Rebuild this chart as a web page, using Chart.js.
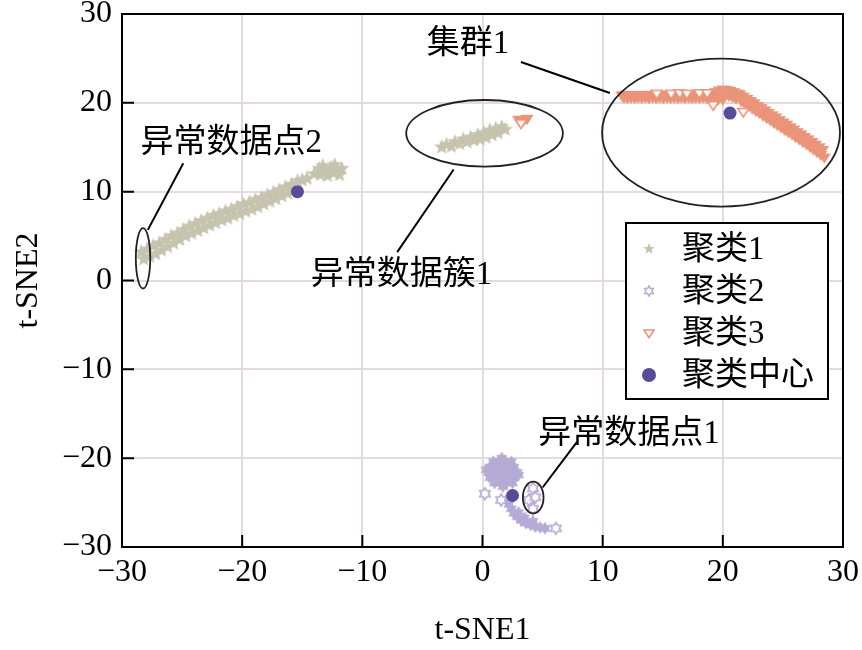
<!DOCTYPE html>
<html>
<head>
<meta charset="utf-8">
<script src="https://cdn.jsdelivr.net/npm/chart.js@4.4.0/dist/chart.umd.min.js"></script>
<style>
    html, body { margin: 0; padding: 0; background: #fff; }
</style>
</head>
<body>
<canvas id="tsne-chart" width="862" height="650"></canvas>
<script>

// ---- data (t-SNE1, t-SNE2) ----
var tickValues = [-30, -20, -10, 0, 10, 20, 30];

// cluster 1: long band on the left plus the small band at the right end
var clusterOne = [
    [-28.4,3.2],[-28.2,2.4],[-27.9,3.5],[-27.7,2.7],[-27.4,3.9],[-27.2,3.0],[-26.9,4.2],[-26.7,3.4],
    [-26.4,4.6],[-26.2,3.8],[-25.9,5.0],[-25.7,4.2],[-25.4,5.3],[-25.2,4.6],[-24.9,5.7],[-24.7,5.0],
    [-24.4,6.1],[-24.2,5.3],[-23.9,6.4],[-23.7,5.6],[-23.4,6.7],[-23.2,5.9],[-22.9,7.0],[-22.7,6.2],
    [-22.4,7.3],[-22.2,6.5],[-21.9,7.5],[-21.7,6.8],[-21.4,7.8],[-21.2,7.0],[-20.9,8.0],[-20.7,7.3],
    [-20.4,8.3],[-20.2,7.5],[-19.9,8.6],[-19.7,7.8],[-19.4,8.8],[-19.2,8.0],[-18.9,9.1],[-18.7,8.3],
    [-18.4,9.3],[-18.2,8.6],[-17.9,9.6],[-17.7,8.9],[-17.4,9.9],[-17.2,9.2],[-16.9,10.2],[-16.7,9.5],
    [-16.4,10.5],[-16.2,9.8],[-15.9,10.8],[-15.7,10.2],[-15.4,11.2],[-15.0,11.3],[-14.6,11.5],
    [-14.0,12.0],[-13.6,12.6],[-13.5,11.9],[-13.1,12.4],[-12.9,11.8],[-12.6,12.7],[-12.4,12.1],
    [-12.1,12.5],[-11.9,11.9],[-11.7,12.6],[-13.3,12.9],[-12.3,13.0]
];
// cluster 1 points inside "异常数据簇1"
var clusterOneOdd = [
    [-3.4,15.0],[-3.0,15.3],[-2.6,15.1],[-2.3,15.6],[-1.9,15.4],[-1.6,15.9],[-1.3,15.6],[-1.0,16.1],
    [-0.7,15.8],[-0.4,16.4],[-0.2,15.9],[0.1,16.6],[0.3,16.1],[0.6,16.9],[0.8,16.4],[1.1,17.1],
    [1.3,16.6],[1.6,17.3],[1.9,17.0]
];

// cluster 2: dense blob and tail at the bottom
var clusterTwo = [
    [0.9,-20.4],[1.4,-20.4],[1.9,-20.4],[2.4,-20.4],
    [0.6,-21.0],[1.1,-21.0],[1.6,-21.0],[2.1,-21.0],[2.6,-21.0],
    [0.5,-21.6],[1.0,-21.6],[1.5,-21.6],[2.0,-21.6],[2.5,-21.6],[2.9,-21.6],
    [0.6,-22.2],[1.1,-22.2],[1.6,-22.2],[2.1,-22.2],[2.6,-22.2],
    [1.0,-22.8],[1.5,-22.8],[2.0,-22.8],[2.5,-22.8],
    [0.3,-21.3],[1.6,-20.0],[3.0,-21.9],[1.7,-23.2],
    [2.0,-24.7],[2.2,-25.2],[2.4,-25.7],[2.6,-26.2],[2.9,-26.6],[3.2,-27.0],[3.6,-27.3],
    [4.0,-27.5],[4.4,-27.7],[4.8,-27.8],[5.2,-27.9],[3.0,-26.1],[3.5,-26.7],[4.2,-27.1]
];
var clusterTwoLoose = [
    [0.2,-24.0],[1.55,-24.7],[4.2,-23.4],[3.85,-24.7],[4.2,-25.7],[4.4,-24.4],[6.1,-27.9]
];

// cluster 3: flat band, bump and descending band on the right, plus a few in the odd cluster
var clusterThree = [
    // flat part, upper row
    [11.6,20.85],[11.9,20.9],[12.2,20.85],[12.5,20.9],[12.8,20.85],[13.1,20.9],[13.4,20.85],[13.7,20.9],
    [14.0,20.85],[14.3,20.9],[14.6,20.85],[14.9,20.9],[15.2,20.85],[15.5,20.9],[15.8,20.85],[16.1,20.9],
    [16.4,20.85],[16.7,20.9],[17.0,20.85],[17.3,20.9],[17.6,20.85],[17.9,20.9],[18.2,20.85],[18.5,20.9],
    [18.8,20.9],[19.1,20.95],
    // flat part, lower row
    [11.75,20.6],[12.05,20.55],[12.35,20.6],[12.65,20.55],[12.95,20.6],[13.25,20.55],[13.55,20.6],
    [13.85,20.55],[14.15,20.6],[14.45,20.55],[14.75,20.6],[15.05,20.55],[15.35,20.6],[15.65,20.55],
    [15.95,20.6],[16.25,20.55],[16.55,20.6],[16.85,20.55],[17.15,20.6],[17.45,20.55],[17.75,20.6],
    [18.05,20.55],[18.35,20.6],[18.65,20.55],[18.95,20.5],[19.25,20.45],
    // bump
    [19.4,21.2],[19.7,21.4],[20.0,21.5],[20.3,21.45],[20.6,21.35],[20.9,21.2],[21.2,21.05],
    [19.6,20.8],[19.9,20.9],[20.2,20.9],[20.5,20.8],[20.8,20.65],[21.1,20.5],[19.6,20.35],[20.0,20.4],
    // descending part, upper row
    [21.4,20.95],[21.7,20.7],[22.0,20.45],[22.3,20.2],[22.6,19.95],[22.9,19.65],[23.2,19.4],[23.5,19.15],
    [23.8,18.85],[24.1,18.6],[24.4,18.35],[24.7,18.05],[25.0,17.8],[25.3,17.55],[25.6,17.25],[25.9,17.0],
    [26.2,16.7],[26.5,16.45],[26.8,16.15],[27.1,15.9],[27.4,15.6],[27.7,15.3],[28.0,15.0],[28.3,14.7],
    // descending part, lower row
    [21.55,20.15],[21.85,19.9],[22.15,19.65],[22.45,19.35],[22.75,19.1],[23.05,18.85],[23.35,18.55],
    [23.65,18.3],[23.95,18.05],[24.25,17.75],[24.55,17.5],[24.85,17.25],[25.15,16.95],[25.45,16.7],
    [25.75,16.45],[26.05,16.15],[26.35,15.9],[26.65,15.6],[26.95,15.35],[27.25,15.05],[27.55,14.75],
    [27.85,14.45],[28.15,14.15],[28.45,13.85],
    // inside "异常数据簇1"
    [3.0,18.1],[3.4,18.0],[3.7,18.2]
];
var clusterThreeLoose = [
    [14.5,21.05],[15.7,21.05],[16.4,21.1],[17.0,21.05],[18.05,21.1],[18.7,21.1],
    [19.2,19.75],[21.7,19.0],[3.2,17.7]
];

var centers = [[-15.4, 10.0], [2.5, -24.2], [20.6, 18.85]];

// annotations: [cx, cy, rx, ry] in data units
var rings = [
    [-28.25, 2.5, 0.6, 3.4],
    [0.17, 16.57, 6.52, 3.75],
    [19.85, 16.64, 9.9, 8.33],
    [4.22, -24.43, 0.86, 1.78]
];
var callouts = [
    { text: '集群1',       at: [-1.2, 26.6],  from: [3.2, 24.6],   to: [10.6, 21.1] },
    { text: '异常数据点2', at: [-20.9, 15.45], from: [-24.9, 13.2], to: [-27.85, 5.7] },
    { text: '异常数据簇1', at: [-6.75, 0.6],   from: [-7.1, 3.2],   to: [-2.4, 12.5] },
    { text: '异常数据点1', at: [12.2, -17.3],  from: [7.85, -18.2], to: [5.0, -23.3] }
];
var legendNames = ['聚类1', '聚类2', '聚类3', '聚类中心'];

// ---- styles ----
var TEXT_FONT = '"Liberation Serif", "Noto Sans CJK SC", serif';
var colorOne = '#c6c3ae';
var colorTwo = '#b5abd5';
var colorThree = '#ea9479';
var colorCenter = '#574c98';
var gridColor = 'rgba(226, 214, 219, 0.9)';

function marker(size, draw) {
    var c = document.createElement('canvas');
    c.width = size;
    c.height = size;
    var g = c.getContext('2d');
    g.translate(size / 2, size / 2);
    draw(g);
    return c;
}

function starPath(g, n, ro, ri) {
    g.beginPath();
    for (var i = 0; i < n * 2; i++) {
        var r = i % 2 ? ri : ro;
        var a = -Math.PI / 2 + i * Math.PI / n;
        g.lineTo(r * Math.cos(a), r * Math.sin(a));
    }
    g.closePath();
}

function triPath(g, r) {
    g.beginPath();
    g.moveTo(-r, -r * 0.6);
    g.lineTo(r, -r * 0.6);
    g.lineTo(0, r * 0.95);
    g.closePath();
}

var starFill = marker(18, function (g) { starPath(g, 5, 8, 3.4); g.fillStyle = colorOne; g.fill(); });
var hexFill = marker(16, function (g) { starPath(g, 6, 6.5, 3.8); g.fillStyle = colorTwo; g.fill(); });
var hexHollow = marker(16, function (g) {
    starPath(g, 6, 6, 3.5); g.fillStyle = '#fff'; g.fill();
    g.strokeStyle = colorTwo; g.lineWidth = 1.6; g.stroke();
});
var triFill = marker(16, function (g) { triPath(g, 6.5); g.fillStyle = colorThree; g.fill(); });
var triHollow = marker(16, function (g) {
    triPath(g, 5.5); g.fillStyle = '#fff'; g.fill();
    g.strokeStyle = colorThree; g.lineWidth = 1.6; g.stroke();
});

// legend glyphs (smaller)
var legendStar = marker(16, function (g) { starPath(g, 5, 6, 2.6); g.fillStyle = colorOne; g.fill(); });
var legendHex = marker(16, function (g) {
    starPath(g, 6, 5, 2.9); g.strokeStyle = colorTwo; g.lineWidth = 1.5; g.stroke();
});
var legendTri = marker(16, function (g) {
    triPath(g, 5); g.strokeStyle = colorThree; g.lineWidth = 1.6; g.stroke();
});
var legendDot = marker(18, function (g) {
    g.beginPath(); g.arc(0, 0, 7, 0, Math.PI * 2); g.fillStyle = colorCenter; g.fill();
});

function pts(list) {
    return list.map(function (p) { return { x: p[0], y: p[1] }; });
}

function fmtTick(v) {
    return String(v).replace('-', '\u2212');
}

// inward ticks and the full frame
var framePlugin = {
    id: 'frame',
    afterDatasetsDraw: function (chart) {
        var a = chart.chartArea, g = chart.ctx;
        var xs = chart.scales.x, ys = chart.scales.y;
        g.save();
        g.strokeStyle = '#000';
        g.lineWidth = 2;
        g.beginPath();
        xs.ticks.forEach(function (t) {
            var px = xs.getPixelForValue(t.value);
            g.moveTo(px, a.bottom);
            g.lineTo(px, a.bottom - 12);
        });
        ys.ticks.forEach(function (t) {
            var py = ys.getPixelForValue(t.value);
            g.moveTo(a.left, py);
            g.lineTo(a.left + 12, py);
        });
        g.stroke();
        g.strokeRect(a.left, a.top, a.right - a.left, a.bottom - a.top);
        g.restore();
    }
};

// ellipses, leader lines and their labels
var notesPlugin = {
    id: 'notes',
    afterDraw: function (chart) {
        var g = chart.ctx, xs = chart.scales.x, ys = chart.scales.y;
        g.save();
        g.strokeStyle = '#222';
        g.lineWidth = 1.8;
        rings.forEach(function (r) {
            var cx = xs.getPixelForValue(r[0]), cy = ys.getPixelForValue(r[1]);
            var rx = Math.abs(xs.getPixelForValue(r[0] + r[2]) - cx);
            var ry = Math.abs(ys.getPixelForValue(r[1] + r[3]) - cy);
            g.beginPath();
            g.ellipse(cx, cy, rx, ry, 0, 0, Math.PI * 2);
            g.stroke();
        });
        g.strokeStyle = '#000';
        g.lineWidth = 2;
        g.fillStyle = '#000';
        g.font = '33px ' + TEXT_FONT;
        g.textAlign = 'center';
        g.textBaseline = 'middle';
        callouts.forEach(function (c) {
            g.beginPath();
            g.moveTo(xs.getPixelForValue(c.from[0]), ys.getPixelForValue(c.from[1]));
            g.lineTo(xs.getPixelForValue(c.to[0]), ys.getPixelForValue(c.to[1]));
            g.stroke();
            g.fillText(c.text, xs.getPixelForValue(c.at[0]), ys.getPixelForValue(c.at[1]));
        });
        g.restore();
    }
};

var legendPlugin = {
    id: 'boxLegend',
    afterDraw: function (chart) {
        var a = chart.chartArea, g = chart.ctx;
        var glyphs = [legendStar, legendHex, legendTri, legendDot];
        var right = a.right - 15, top = a.top + 209;
        var w = 202, h = 176;
        g.save();
        g.fillStyle = '#fff';
        g.fillRect(right - w, top, w, h);
        g.strokeStyle = '#000';
        g.lineWidth = 2;
        g.strokeRect(right - w, top, w, h);
        g.font = '33px ' + TEXT_FONT;
        g.fillStyle = '#000';
        g.textBaseline = 'middle';
        g.textAlign = 'left';
        legendNames.forEach(function (name, i) {
            var y = top + 26 + i * 42;
            var img = glyphs[i];
            g.drawImage(img, right - w + 23 - img.width / 2, y - img.height / 2);
            g.fillText(name, right - w + 56, y + 1);
        });
        g.restore();
    }
};

var ctx = document.getElementById('tsne-chart').getContext('2d');
var chart = new Chart(ctx, {
    type: 'scatter',
    data: {
        datasets: [{
            label: '聚类中心',
            data: pts(centers),
            pointStyle: 'circle',
            pointRadius: 6.5,
            backgroundColor: colorCenter,
            borderColor: colorCenter,
            borderWidth: 0,
            order: 0
        }, {
            label: '聚类2',
            data: pts(clusterTwoLoose),
            pointStyle: hexHollow,
            order: 1
        }, {
            label: '聚类3',
            data: pts(clusterThreeLoose),
            pointStyle: triHollow,
            order: 1
        }, {
            label: '聚类1',
            data: pts(clusterOne.concat(clusterOneOdd)),
            pointStyle: starFill,
            order: 2
        }, {
            label: '聚类2',
            data: pts(clusterTwo),
            pointStyle: hexFill,
            order: 2
        }, {
            label: '聚类3',
            data: pts(clusterThree),
            pointStyle: triFill,
            order: 2
        }]
    },
    options: {
        responsive: false,
        animation: false,
        events: [],
        layout: { padding: { top: 14, right: 19, left: 0, bottom: 0 } },
        plugins: {
            legend: { display: false },
            tooltip: { enabled: false }
        },
        scales: {
            x: {
                type: 'linear',
                min: -30,
                max: 30,
                afterBuildTicks: function (s) { s.ticks = tickValues.map(function (v) { return { value: v }; }); },
                afterFit: function (s) {
                    s.height = 103;
                    s.paddingLeft = 0;
                    s.paddingRight = 0;
                },
                grid: { color: gridColor, lineWidth: 2, drawTicks: false },
                border: { display: false },
                ticks: {
                    color: '#000',
                    padding: 6,
                    maxRotation: 0,
                    autoSkip: false,
                    font: { family: TEXT_FONT, size: 32 },
                    callback: fmtTick
                },
                title: {
                    display: true,
                    text: 't-SNE1',
                    color: '#000',
                    font: { family: TEXT_FONT, size: 32 },
                    padding: { top: 0, bottom: 0 }
                }
            },
            y: {
                type: 'linear',
                min: -30,
                max: 30,
                afterBuildTicks: function (s) { s.ticks = tickValues.map(function (v) { return { value: v }; }); },
                afterFit: function (s) {
                    s.width = 122;
                    s.paddingTop = 0;
                    s.paddingBottom = 0;
                },
                grid: { color: gridColor, lineWidth: 2, drawTicks: false },
                border: { display: false },
                ticks: {
                    color: '#000',
                    padding: 10,
                    autoSkip: false,
                    font: { family: TEXT_FONT, size: 32 },
                    callback: fmtTick
                },
                title: {
                    display: true,
                    text: 't-SNE2',
                    color: '#000',
                    font: { family: TEXT_FONT, size: 32 },
                    padding: { top: 9, bottom: 0 }
                }
            }
        }
    },
    plugins: [framePlugin, notesPlugin, legendPlugin]
});
</script>
</body>
</html>
